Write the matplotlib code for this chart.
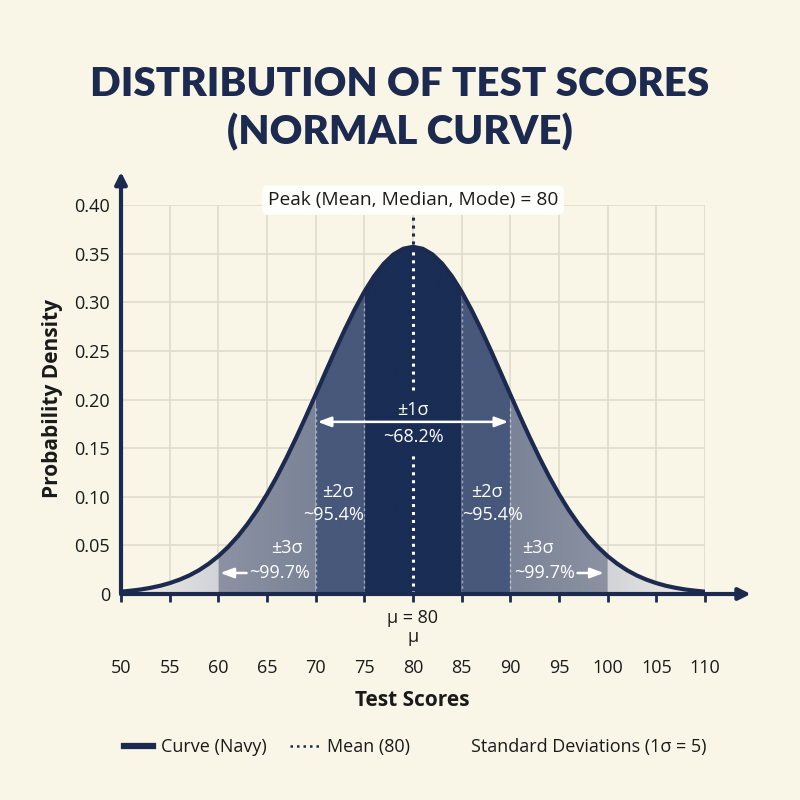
import matplotlib
matplotlib.use("Agg")
import matplotlib.pyplot as plt
import numpy as np
from matplotlib.lines import Line2D
from matplotlib.patches import Polygon
from matplotlib.colors import to_rgb

# ---------------- data ----------------
scores = list(range(50, 111))
density = [0.0024, 0.0034, 0.0046, 0.0063, 0.0084, 0.0112, 0.0147, 0.0190,
           0.0244, 0.0310, 0.0389, 0.0483, 0.0593, 0.0720, 0.0864, 0.1026,
           0.1205, 0.1400, 0.1608, 0.1826, 0.2051, 0.2279, 0.2504, 0.2721,
           0.2924, 0.3108, 0.3267, 0.3396, 0.3492, 0.3550, 0.3570,
           0.3550, 0.3492, 0.3396, 0.3267, 0.3108, 0.2924, 0.2721, 0.2504,
           0.2279, 0.2051, 0.1826, 0.1608, 0.1400, 0.1205, 0.1026, 0.0864,
           0.0720, 0.0593, 0.0483, 0.0389, 0.0310, 0.0244, 0.0190, 0.0147,
           0.0112, 0.0084, 0.0063, 0.0046, 0.0034, 0.0024]
mean_score = 80
band_lo = [75, 70, 85, 60, 90, 50, 100]
band_hi = [85, 75, 90, 70, 100, 60, 110]
x_ticks = [50, 55, 60, 65, 70, 75, 80, 85, 90, 95, 100, 105, 110]
y_ticks = [0, 0.05, 0.10, 0.15, 0.20, 0.25, 0.30, 0.35, 0.40]
y_tick_labels = ["0", "0.05", "0.10", "0.15", "0.20", "0.25", "0.30", "0.35", "0.40"]

# ---------------- style ----------------
BG = "#f9f6e8"
NAVY = "#1b2a4e"
GRID = "#dedac9"
TXT = "#1a1a1a"
band_inner = ["#1a2d55", "#47587b", "#47587b", "#7a8397", "#7a8397", "#d2d3d8", "#d2d3d8"]
band_outer = ["#1a2d55", "#47587b", "#47587b", "#8c92a2", "#8c92a2", "#f0efe6", "#f0efe6"]
FONT = "Open Sans"
TFONT = "Lato"
FS = 13

plt.rcParams["font.family"] = [FONT, "DejaVu Sans"]

fig = plt.figure(figsize=(8, 8), dpi=100, facecolor=BG)
ax = fig.add_axes([121 / 800, 1 - 594 / 800, (705 - 121) / 800, (594 - 205) / 800])
ax.set_facecolor(BG)

ax.set_xticks(x_ticks)
ax.set_yticks(y_ticks)
ax.grid(True, color=GRID, lw=1.1, zorder=0)
for s in ax.spines.values():
    s.set_visible(False)

xs = np.array(scores, dtype=float)
ys = np.array(density, dtype=float)

# bands with gentle horizontal gradients, clipped to the area under the curve
for lo, hi, ci, co in zip(band_lo, band_hi, band_inner, band_outer):
    m = (xs >= lo) & (xs <= hi)
    verts = [(lo, 0)] + list(zip(xs[m], ys[m])) + [(hi, 0)]
    poly = Polygon(verts, closed=True, facecolor="none", edgecolor="none",
                   transform=ax.transData)
    ax.add_patch(poly)
    inner_side_is_hi = abs(hi - mean_score) < abs(lo - mean_score)
    c_lo = to_rgb(co) if inner_side_is_hi else to_rgb(ci)
    c_hi = to_rgb(ci) if inner_side_is_hi else to_rgb(co)
    t = np.linspace(0, 1, 200)[None, :, None]
    grad = np.array(c_lo)[None, None, :] * (1 - t) + np.array(c_hi)[None, None, :] * t
    grad = np.repeat(grad, 2, axis=0)
    im = ax.imshow(grad, extent=[lo, hi, 0, max(ys[m]) + 0.01], aspect="auto",
                   origin="lower", zorder=2, interpolation="bilinear")
    im.set_clip_path(poly)
ax.set_xlim(50, 110)
ax.set_ylim(0, 0.40)

# faint boundary dotted lines
for b in [70, 75, 85, 90]:
    top = float(np.interp(b, xs, ys))
    ax.plot([b, b], [0, top - 0.012], color="white", lw=1, alpha=0.45,
            ls=(0, (2, 2)), zorder=3)

# curve
ax.plot(xs, ys, color=NAVY, lw=3.0, zorder=6, solid_capstyle="round",
        solid_joinstyle="round")

# mean lines
peak = float(np.interp(mean_score, xs, ys))
dot = (0, (1, 1.6))
ax.plot([mean_score, mean_score], [0, 0.146], color="white", lw=2.2, ls=dot, zorder=4)
ax.plot([mean_score, mean_score], [0.21, peak - 0.004], color="white", lw=2.2, ls=dot, zorder=4)
ax.plot([mean_score, mean_score], [peak + 0.003, 0.388], color=NAVY, lw=2.2, ls=dot,
        zorder=4, clip_on=False)

# axes arrows
ax.annotate("", xy=(114.7, 0), xytext=(50, 0), annotation_clip=False,
            arrowprops=dict(arrowstyle="-|>,head_length=0.7,head_width=0.35",
                            color=NAVY, lw=3, shrinkA=0, shrinkB=0), zorder=7)
ax.annotate("", xy=(50, 0.434), xytext=(50, 0), annotation_clip=False,
            arrowprops=dict(arrowstyle="-|>,head_length=0.7,head_width=0.35",
                            color=NAVY, lw=3, shrinkA=0, shrinkB=0), zorder=7)

# ticks
ax.tick_params(axis="x", direction="out", length=6, width=2, color=NAVY,
               pad=41, labelsize=FS, labelcolor=TXT)
ax.tick_params(axis="y", length=0, pad=8, labelsize=FS, labelcolor=TXT)
ax.set_xticklabels([str(v) for v in x_ticks])
ax.set_yticklabels(y_tick_labels)

# annotations
ax.text(80, 0.405, "Peak (Mean, Median, Mode) = 80", ha="center", va="center",
        fontsize=13.8, color=TXT, zorder=8,
        bbox=dict(boxstyle="round,pad=0.3", facecolor="#fefefb", edgecolor="none"))

wt = dict(color="white", fontsize=FS, ha="center", va="center", zorder=8)
ax.text(80, 0.189, "±1σ", **wt)
ax.text(80, 0.161, "~68.2%", **wt)
ax.annotate("", xy=(70.2, 0.177), xytext=(89.8, 0.177),
            arrowprops=dict(arrowstyle="<|-|>,head_length=0.8,head_width=0.3",
                            color="white", lw=1.8, shrinkA=0, shrinkB=0), zorder=8)
ax.text(72.3, 0.105, "±2σ", **wt)
ax.text(71.8, 0.081, "~95.4%", **wt)
ax.text(87.6, 0.105, "±2σ", **wt)
ax.text(88.2, 0.081, "~95.4%", **wt)
ax.text(67.0, 0.047, "±3σ", **wt)
ax.text(66.3, 0.0216, "~99.7%", **wt)
ax.text(92.8, 0.047, "±3σ", **wt)
ax.text(93.5, 0.0216, "~99.7%", **wt)
ax.annotate("", xy=(60.2, 0.0216), xytext=(62.9, 0.0216),
            arrowprops=dict(arrowstyle="-|>,head_length=0.8,head_width=0.3",
                            color="white", lw=1.8, shrinkA=0, shrinkB=0), zorder=8)
ax.annotate("", xy=(99.6, 0.0216), xytext=(96.9, 0.0216),
            arrowprops=dict(arrowstyle="-|>,head_length=0.8,head_width=0.3",
                            color="white", lw=1.8, shrinkA=0, shrinkB=0), zorder=8)

ax.text(80, -0.0247, "μ = 80", ha="center", va="center", fontsize=FS,
        color=TXT, clip_on=False)
ax.text(80, -0.0445, "μ", ha="center", va="center", fontsize=FS,
        color=TXT, clip_on=False)

# titles / labels
fig.text(0.5, 1 - 85 / 800, "DISTRIBUTION OF TEST SCORES", ha="center", va="center",
         fontsize=29, fontweight="heavy", color=NAVY, family=[TFONT, "DejaVu Sans"])
fig.text(0.5, 1 - 132 / 800, "(NORMAL CURVE)", ha="center", va="center",
         fontsize=29, fontweight="heavy", color=NAVY, family=[TFONT, "DejaVu Sans"])
fig.text(412 / 800, 1 - 700 / 800, "Test Scores", ha="center", va="center",
         fontsize=15, fontweight="bold", color=TXT)
fig.text(53 / 800, 1 - 398 / 800, "Probability Density", ha="center", va="center",
         rotation=90, fontsize=15, fontweight="bold", color=TXT)

# legend
handles = [Line2D([], [], color=NAVY, lw=4.5),
           Line2D([], [], color=NAVY, lw=1.8, ls=(0, (1, 1.6))),
           Line2D([], [], color="none")]
labels = ["Curve (Navy)", "Mean (80)", "Standard Deviations (1σ = 5)"]
fig.legend(handles, labels, loc="center", bbox_to_anchor=(415 / 800, 1 - 747 / 800),
           ncol=3, frameon=False, fontsize=FS, handlelength=1.6,
           columnspacing=1.3, handletextpad=0.45, labelcolor=TXT)

fig.savefig("out.png", dpi=100, facecolor=BG)
